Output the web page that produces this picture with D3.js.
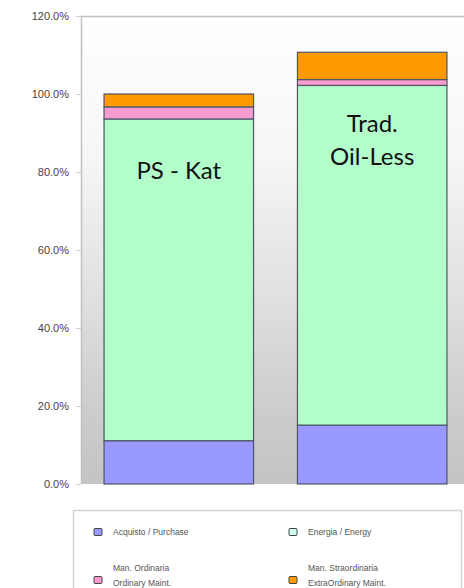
<!DOCTYPE html>
<html><head><meta charset="utf-8">
<script src="https://cdn.jsdelivr.net/npm/d3@7"></script>
<style>
html,body{margin:0;padding:0;background:#fff;overflow:hidden;}
svg{display:block;}
</style></head>
<body>
<script>
const categories = ["PS - Kat", "Trad. Oil-Less"];
const barLabels = [["PS - Kat"], ["Trad.", "Oil-Less"]];
const seriesNames = ["Acquisto / Purchase", "Energia / Energy", "Man. Ordinaria|Ordinary Maint.", "Man. Straordinaria|ExtraOrdinary Maint."];
const purchase = [11.1, 15.1];
const energy = [82.5, 87.1];
const ordinaryMaint = [3.1, 1.5];
const extraMaint = [3.3, 7.0];
const yTicks = [0, 20, 40, 60, 80, 100, 120];

const colors = ["#9999ff", "#b3fdca", "#f79bd0", "#ff9900"];
const swatchColors = ["#9999ff", "#ccffee", "#ff99cc", "#ff9900"];

const W = 464, H = 588;
const svg = d3.select("body").append("svg").attr("width", W).attr("height", H);

const plot = {left: 81, top: 16, right: 470, bottom: 484};
const y = d3.scaleLinear().domain([0, 120]).range([plot.bottom, plot.top]);
const x = d3.scaleBand().domain(categories).range([82, 469]).paddingInner(0.227).paddingOuter(0.114);

const defs = svg.append("defs");
const grad = defs.append("linearGradient").attr("id", "bg").attr("x1", 0).attr("y1", 0).attr("x2", 0).attr("y2", 1);
grad.append("stop").attr("offset", "0").attr("stop-color", "#ffffff");
grad.append("stop").attr("offset", "0.3").attr("stop-color", "#f6f6f6");
grad.append("stop").attr("offset", "0.6").attr("stop-color", "#e0e0e0");
grad.append("stop").attr("offset", "0.85").attr("stop-color", "#cccccc");
grad.append("stop").attr("offset", "1").attr("stop-color", "#c4c4c4");

svg.append("rect").attr("x", plot.left).attr("y", plot.top)
  .attr("width", plot.right - plot.left).attr("height", plot.bottom - plot.top)
  .attr("fill", "url(#bg)");
svg.append("path")
  .attr("d", `M${plot.left + 0.5},${plot.bottom}V${plot.top + 0.5}H${plot.right}`)
  .attr("fill", "none").attr("stroke", "#c0c0c0").attr("stroke-width", 1.5);

// y axis
const yAxis = d3.axisLeft(y).tickValues(yTicks).tickSize(5).tickPadding(7)
  .tickFormat(d => d.toFixed(1) + "%");
const gy = svg.append("g").attr("transform", `translate(${plot.left},0)`).call(yAxis);
gy.select(".domain").remove();
gy.selectAll(".tick line").attr("stroke", "#d0d0d0");
gy.selectAll(".tick text").attr("fill", "#444").attr("font-family", "Liberation Sans, Arial, sans-serif").attr("font-size", 11);

// stacked bars
const data = categories.map((c, i) => ({cat: c, s0: purchase[i], s1: energy[i], s2: ordinaryMaint[i], s3: extraMaint[i]}));
const stack = d3.stack().keys(["s0", "s1", "s2", "s3"])(data);
const g = svg.append("g");
stack.forEach((layer, li) => {
  g.selectAll(null).data(layer).enter().append("rect")
    .attr("x", d => x(d.data.cat))
    .attr("y", d => y(d[1]))
    .attr("width", x.bandwidth())
    .attr("height", d => y(d[0]) - y(d[1]))
    .attr("fill", colors[li])
    .attr("stroke", "#4d5566").attr("stroke-width", 1.2);
});

// in-bar labels
categories.forEach((c, i) => {
  const lines = barLabels[i];
  const cx = x(c) + x.bandwidth() / 2;
  const startY = i === 0 ? 179 : 132;
  lines.forEach((t, k) => {
    svg.append("text").attr("x", cx).attr("y", startY + k * 33)
      .attr("text-anchor", "middle").attr("font-family", "Lato, 'Open Sans', sans-serif")
      .attr("font-size", 24).attr("fill", "#111").text(t);
  });
});

// legend
const lg = svg.append("g");
lg.append("rect").attr("x", 73.5).attr("y", 510.5).attr("width", 388).attr("height", 90)
  .attr("fill", "#fff").attr("stroke", "#d4d4d4").attr("stroke-width", 1.5);
const legPos = [[94, 532], [289, 532], [94, 580], [289, 580]];
seriesNames.forEach((n, i) => {
  const [lx, ly] = legPos[i];
  lg.append("rect").attr("x", lx).attr("y", ly - 3.5).attr("width", 8).attr("height", 7)
    .attr("rx", 1).attr("fill", swatchColors[i]).attr("stroke", "#444").attr("stroke-width", 1);
  const parts = n.split("|");
  parts.forEach((p, k) => {
    const ty = parts.length === 1 ? ly + 3 : ly - 9 + k * 15;
    lg.append("text").attr("x", lx + 19).attr("y", ty)
      .attr("font-family", "Liberation Sans, Arial, sans-serif").attr("font-size", 8.5)
      .attr("fill", "#555").text(p);
  });
});
</script>
</body></html>
